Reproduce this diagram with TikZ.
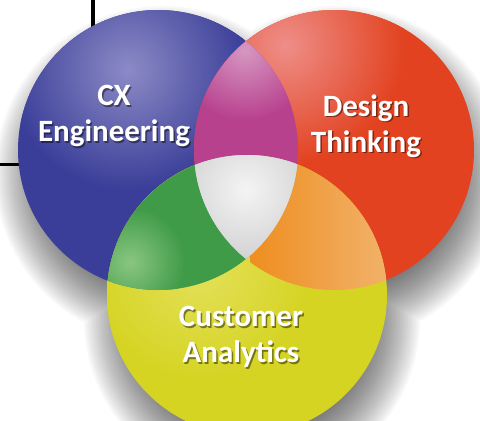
\documentclass[tikz,border=0pt]{standalone}
\usepackage{fontspec}
\setmainfont{Carlito}
\definecolor{bluebase}{HTML}{3A3E98}
\definecolor{bluehi}{HTML}{8C8AC6}
\definecolor{redbase}{HTML}{E2421F}
\definecolor{redhi}{HTML}{EE8E88}
\definecolor{yelbase}{HTML}{D5D423}
\definecolor{yelhi}{HTML}{E4E05A}
\definecolor{magbase}{HTML}{B8418E}
\definecolor{maghi}{HTML}{D697C2}
\definecolor{grnbase}{HTML}{3F9B48}
\definecolor{grnhi}{HTML}{8AC680}
\definecolor{orgA}{HTML}{EE8E20}
\definecolor{orgB}{HTML}{F2B46E}
\definecolor{graybase}{HTML}{D0D0D0}
\definecolor{grayhi}{HTML}{F4F4F4}
\tikzset{
  lbl/.style={text=white, font=\bfseries\fontsize{31}{36}\selectfont, align=center, inner sep=0pt},
  lblsh/.style={lbl, text=black, opacity=0.45},
  edgeline/.style={line width=3.5pt, black}
}
\begin{document}
\begin{tikzpicture}[x=1pt,y=-1pt]
\useasboundingbox (0,0) rectangle (480,421);
\clip (0,0) rectangle (480,421);
\coordinate (cb) at (158,150);
\coordinate (cr) at (334,150);
\coordinate (cy) at (247,295);
% background lines
\coordinate (v1) at (93,0);
\coordinate (v2) at (93,60);
\coordinate (h1) at (0,164);
\coordinate (h2) at (60,164);
\draw[edgeline] (v1) -- (v2);
\draw[edgeline, line width=3pt] (h1) -- (h2);
% soft shadow
\foreach \k in {0,...,29} {
  \pgfmathsetmacro\rr{168-2*\k}
  \fill[black,opacity=0.028]
    ([shift={(5,24)}]cb) circle (\rr pt)
    ([shift={(5,24)}]cr) circle (\rr pt)
    ([shift={(5,24)}]cy) circle (\rr pt);
}
% blue
\fill[bluebase] (cb) circle (140pt);
\begin{scope}
  \clip (cb) circle (140pt);
  \shade[inner color=bluehi, outer color=bluebase] (128,70) circle (120pt);
\end{scope}
% red
\fill[redbase] (cr) circle (140pt);
\begin{scope}
  \clip (cr) circle (140pt);
  \shade[inner color=redhi, outer color=redbase] (285,45) circle (120pt);
\end{scope}
% yellow
\fill[yelbase] (cy) circle (140pt);
\begin{scope}
  \clip (cy) circle (140pt);
  \shade[inner color=yelhi, outer color=yelbase] (200,270) circle (110pt);
\end{scope}
% magenta
\begin{scope}
  \clip (cb) circle (140pt);
  \clip (cr) circle (140pt);
  \fill[magbase] (cr) circle (140pt);
  \shade[inner color=maghi, outer color=magbase] (245,50) circle (70pt);
\end{scope}
% green
\begin{scope}
  \clip (cb) circle (140pt);
  \clip (cy) circle (140pt);
  \fill[grnbase] (cy) circle (140pt);
  \shade[inner color=grnhi, outer color=grnbase] (130,262) circle (55pt);
\end{scope}
% orange
\begin{scope}
  \clip (cr) circle (140pt);
  \clip (cy) circle (140pt);
  \shade[left color=orgA, right color=orgB] (250,150) rectangle (395,300);
\end{scope}
% gray centre
\begin{scope}
  \clip (cb) circle (140pt);
  \clip (cr) circle (140pt);
  \clip (cy) circle (140pt);
  \fill[graybase] (cy) circle (140pt);
  \shade[inner color=grayhi, outer color=graybase] (246,190) circle (75pt);
\end{scope}
% labels
\node[lblsh] (cxs) at (115.5,117.5) {CX\\Engineering};
\node[lbl] (cx) at (114,116) {CX\\Engineering};
\node[lblsh] (dts) at (367.5,127.5) {Design\\Thinking};
\node[lbl] (dt) at (366,126) {Design\\Thinking};
\node[lblsh] (cas) at (242.5,338.5) {Customer\\Analytics};
\node[lbl] (ca) at (241,337) {Customer\\Analytics};
\end{tikzpicture}
\end{document}
